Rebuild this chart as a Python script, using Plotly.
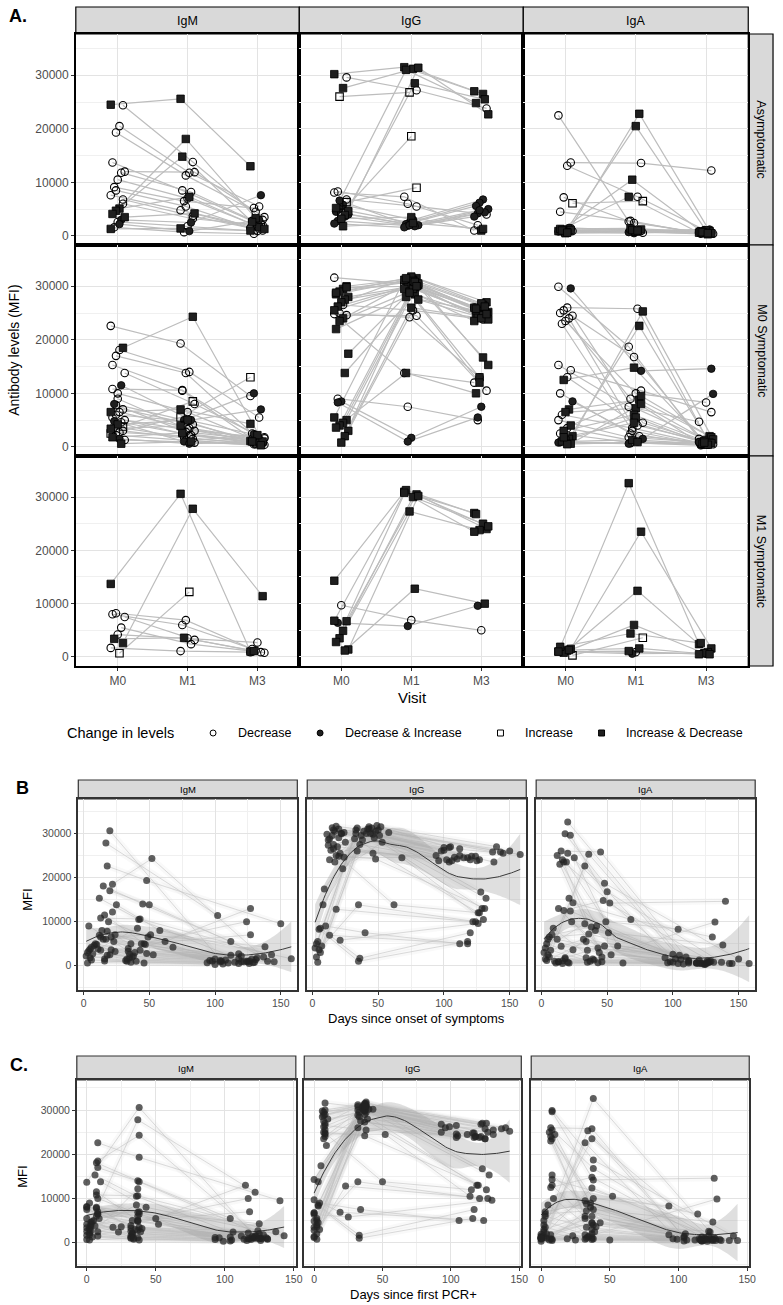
# Antibody kinetics figure: A = visit facets, B/C = MFI vs days with loess smooth
import numpy as np
import plotly.graph_objects as go

W, H = 783, 1305
FONT = "Liberation Sans, Arial, sans-serif"

antibodies = ["IgM", "IgG", "IgA"]
groups = ["Asymptomatic", "M0 Symptomatic", "M1 Symptomatic"]
visits = ["M0", "M1", "M3"]
change_labels = ["Decrease", "Decrease & Increase", "Increase", "Increase & Decrease"]
mfi_ticks = [0, 10000, 20000, 30000]

# MFI in thousands, one row per participant: [M0, M1, M3]  (None = no sample)
asym_igm = [
    [24.5, 25.6, 13.0], [24.4, 13.8, 3.0], [20.5, 11.8, 5.5], [19.3, 11.3, 4.5],
    [13.7, 8.5, 2.8], [12.0, 11.9, 3.5], [11.8, 8.2, 2.2], [10.5, 7.0, 1.8],
    [9.1, 6.5, 5.2], [7.6, 4.8, 1.5], [6.8, 3.7, 1.0], [5.1, 7.3, 1.6],
    [4.7, 18.1, 3.3], [4.1, 14.8, 2.6], [3.5, 4.2, 1.3], [3.0, 2.5, 7.6],
    [2.6, 1.8, 0.9], [1.6, 0.7, 0.4], [1.3, 1.4, 1.0], [6.0, 3.2, 2.0],
    [2.2, 0.9, 3.0], [8.5, 5.5, 1.2],
]
asym_igg = [
    [30.2, 31.5, 27.0], [29.6, 27.2, 23.8], [27.6, 31.2, 26.5], [26.0, 26.8, None],
    [5.2, 31.0, 24.8], [4.6, 31.4, 22.7], [3.9, 28.5, 25.5], [4.3, 18.6, None],
    [8.3, 6.0, 2.0], [8.1, 7.3, 1.0], [6.3, 9.0, None], [5.8, 3.0, 6.8],
    [5.0, 2.5, 6.2], [4.5, 2.2, 5.6], [4.0, 2.0, 5.0], [3.6, 1.8, 4.4],
    [3.2, 3.5, 1.0], [2.8, 1.9, 4.2], [2.3, 1.6, 3.6], [6.8, 5.5, 4.0],
    [1.8, 2.4, 1.3], [6.6, 2.0, 4.8],
]
asym_iga = [
    [22.5, 2.7, 0.6], [13.7, 13.6, 12.2], [13.1, 7.3, 0.8], [7.2, 2.4, 0.5],
    [4.5, 2.8, 0.4], [6.1, 6.5, None], [1.0, 22.8, 0.9], [0.8, 20.5, 1.0],
    [1.2, 10.5, 0.7], [0.9, 7.3, 0.6], [1.1, 1.2, 0.5], [0.7, 0.9, 0.3],
    [0.6, 0.5, 1.0], [1.3, 1.4, 0.8], [0.9, 0.6, 0.4], [1.5, 1.0, 1.2],
    [0.5, 0.8, 0.6], [1.0, 1.1, 0.7], [0.8, 0.7, 0.9], [1.4, 0.9, 0.6],
    [0.6, 1.0, 0.5], [1.1, 0.8, 1.1],
]
m0s_igm = [
    [22.6, 19.3, 9.5], [18.5, 24.3, 1.0], [18.1, 14.0, 5.5], [17.0, 13.8, 2.0],
    [15.3, 10.5, 1.5], [13.8, 8.0, 1.6], [11.5, 5.0, 7.0], [10.0, 6.5, 1.2],
    [8.0, 5.0, 10.0], [6.5, 7.0, 4.3], [7.0, 4.2, 0.8], [6.5, 3.5, 1.5],
    [6.0, 4.8, 0.7], [5.5, 2.5, 0.9], [5.0, 3.0, 1.8], [4.6, 2.2, 0.6],
    [4.2, 5.0, 2.2], [3.8, 1.8, 0.5], [3.4, 3.9, 1.1], [3.0, 1.5, 0.7],
    [2.7, 2.0, 1.3], [2.2, 1.2, 0.5], [1.8, 2.6, 1.0], [1.3, 0.8, 0.4],
    [0.6, 1.0, 0.3], [9.0, 3.3, 0.9], [4.8, 1.0, 2.4], [2.5, 5.5, 13.0],
    [3.8, 8.5, None], [1.5, 0.6, 0.9], [7.8, 2.8, 1.4], [10.8, 10.6, 2.5],
]
m0s_igg = [
    [31.6, 30.5, 26.0], [30.0, 31.5, 27.0], [29.5, 31.2, 26.5], [29.0, 30.8, 25.8],
    [28.5, 31.0, 24.5], [28.0, 30.2, 25.2], [27.5, 29.8, 24.0], [27.0, 31.8, 26.8],
    [26.2, 30.0, 24.8], [25.5, 29.5, 23.5], [24.6, 24.5, 10.5], [24.0, 31.0, 16.7],
    [23.5, 29.0, 13.0], [22.0, 28.0, 25.5], [17.4, 30.5, 15.3], [13.8, 28.5, 24.2],
    [8.5, 1.7, 7.5], [8.3, 1.0, 5.5], [5.5, 31.2, 26.0], [5.0, 30.0, 25.0],
    [4.5, 29.5, 24.6], [4.0, 28.8, 12.0], [3.6, 13.8, 10.0], [3.0, 27.5, 23.8],
    [2.0, 30.8, 26.2], [0.8, 26.0, 24.0], [9.0, 7.5, 5.0], [24.8, 13.8, 12.0],
    [29.8, 30.0, 24.8], [26.5, 25.5, 23.8], [25.0, 24.2, 13.0], [28.8, 31.5, 25.8],
]
m0s_iga = [
    [29.9, 18.7, 1.5], [29.6, 14.2, 14.6], [26.0, 25.8, 1.2], [25.5, 16.8, 0.8],
    [25.0, 9.0, 0.6], [24.5, 4.5, 0.5], [24.0, 2.0, 0.7], [23.5, 10.0, 8.3],
    [23.0, 3.0, 0.4], [15.3, 7.5, 4.7], [14.3, 10.5, 6.5], [13.0, 4.0, 0.9],
    [12.5, 14.8, 1.0], [10.0, 2.5, 0.5], [8.5, 1.5, 9.9], [7.0, 8.8, 2.0],
    [6.5, 7.2, 1.3], [6.0, 3.5, 0.6], [5.0, 1.8, 0.9], [4.0, 9.5, 1.8],
    [3.5, 1.0, 0.4], [3.0, 6.0, 1.1], [2.5, 0.8, 0.3], [2.0, 25.3, 1.4],
    [1.5, 22.6, 0.8], [1.2, 5.5, 0.5], [1.0, 1.3, 0.6], [0.8, 0.6, 0.9],
    [0.6, 8.0, 0.7], [0.5, 0.9, 0.4], [1.8, 4.5, 0.8], [0.9, 0.7, 0.5],
]
m1s_igm = [
    [13.7, 30.6, 1.0], [2.6, 27.8, 11.4], [0.7, 12.2, None], [8.2, 6.9, 1.2],
    [8.0, 6.0, 1.5], [7.5, 3.2, 0.8], [5.5, 2.4, 0.9], [4.2, 3.5, 2.7],
    [3.4, 3.6, 1.1], [1.7, 1.1, 0.9],
]
m1s_igg = [
    [14.3, 31.0, 27.0], [6.7, 30.5, 24.0], [4.9, 30.0, 25.0], [3.5, 27.3, 23.8],
    [2.8, 31.3, 26.8], [1.4, 30.2, 24.5], [1.2, 12.8, 10.0], [9.7, 6.9, 5.0],
    [6.4, 5.8, 9.6], [6.8, 30.8, 23.5],
]
m1s_iga = [
    [1.0, 32.6, 2.4], [1.5, 23.5, 1.6], [1.2, 12.4, 0.9], [0.8, 6.0, 0.7],
    [1.9, 4.4, 2.6], [0.3, 3.6, None], [1.3, 1.6, 0.5], [1.1, 0.9, 0.6],
    [1.0, 0.6, 0.7], [1.0, 1.1, 0.5],
]

# days since onset of symptoms at each visit, M0-symptomatic participants
m0s_onset_m0 = [18, 22, 15, 20, 12, 25, 16, 19, 14, 21, 24, 13, 17, 23, 9, 8,
                6, 5, 4, 3, 7, 2, 5, 6, 3, 4, 10, 20, 11, 16, 18, 13]
m0s_onset_m1 = [48, 52, 45, 50, 42, 58, 46, 49, 44, 51, 68, 43, 47, 53, 39, 38,
                36, 35, 34, 33, 37, 32, 35, 36, 33, 34, 40, 62, 41, 46, 48, 43]
m0s_onset_m3 = [150, 140, 112, 137, 118, 158, 127, 104, 124, 138, 130, 128, 129, 145, 132, 110,
                120, 118, 98, 94, 108, 126, 124, 106, 100, 120, 112, 127, 121, 125, 131, 143]
m0s_onset_to_pcr = [10, 14, 8, 12, 6, 15, 9, 11, 7, 13, 16, 5, 10, 14, 4, 5,
                    3, 2, 2, 1, 4, 0, 3, 2, 1, 2, 6, 12, 5, 8, 11, 6]
# M1-symptomatic participants: symptoms began after the M0 (PCR+) visit
m1s_onset_m1 = [20, 17, 22, 12, 15, 24, 18, 13, 21, 16]
m1s_onset_m3 = [105, 102, 112, 96, 100, 115, 122, 118, 126, 104]
m1s_pcr_to_onset = [18, 20, 15, 25, 22, 16, 5, 6, 4, 21]

facet_data = {
    "Asymptomatic": [asym_igm, asym_igg, asym_iga],
    "M0 Symptomatic": [m0s_igm, m0s_igg, m0s_iga],
    "M1 Symptomatic": [m1s_igm, m1s_igg, m1s_iga],
}

marker_style = {
    "Decrease": dict(symbol="circle-open", color="black", size=7.5, line=dict(width=1.1, color="black")),
    "Decrease & Increase": dict(symbol="circle", color="#1f1f1f", size=7.5, line=dict(width=0.8, color="black")),
    "Increase": dict(symbol="square-open", color="black", size=7.5, line=dict(width=1.1, color="black")),
    "Increase & Decrease": dict(symbol="square", color="#1f1f1f", size=7.5, line=dict(width=0.8, color="black")),
}


def change_type(v):
    vals = [a for a in v if a is not None]
    steps = [b - a for a, b in zip(vals, vals[1:])]
    if all(s <= 0 for s in steps):
        return "Decrease"
    if all(s > 0 for s in steps):
        return "Increase"
    return "Increase & Decrease" if steps[0] > 0 else "Decrease & Increase"


def loess(x, y, grid, span=0.75, cell=0.2):
    """local quadratic loess, evaluated at kd-tree vertices and blended
    with cubic Hermite interpolation (the way R's loess does by default)"""
    x = np.asarray(x, float)
    y = np.asarray(y, float)
    n = len(x)
    q = int(np.floor(span * n))

    def rows(x0):
        d = np.abs(x - x0)
        h = max(np.sort(d)[q - 1], 1e-9)
        w = (1 - np.clip(d / h, 0, 1) ** 3) ** 3
        X = np.column_stack([np.ones(n), x - x0, (x - x0) ** 2])
        XtW = X.T * w
        A = np.linalg.solve(XtW @ X, XtW)
        return A[0], A[1]

    fc = int(np.floor(n * span * cell))
    pad = 0.005 * (x.max() - x.min())
    lo, hi = x.min() - pad, x.max() + pad
    verts = {lo, hi}

    def split(a, b):
        inside = x[(x >= a) & (x <= b)]
        if len(inside) <= fc:
            return
        m = float(np.median(inside))
        if m <= a or m >= b:
            return
        verts.add(m)
        split(a, m)
        split(m, b)

    split(lo, hi)
    v = np.array(sorted(verts))
    R = [rows(vi) for vi in v]

    def op(xq):
        i = min(max(np.searchsorted(v, xq) - 1, 0), len(v) - 2)
        dx = v[i + 1] - v[i]
        t = (xq - v[i]) / dx
        h00 = 2 * t ** 3 - 3 * t ** 2 + 1
        h10 = t ** 3 - 2 * t ** 2 + t
        h01 = -2 * t ** 3 + 3 * t ** 2
        h11 = t ** 3 - t ** 2
        return h00 * R[i][0] + h10 * dx * R[i][1] + h01 * R[i + 1][0] + h11 * dx * R[i + 1][1]

    S = np.array([op(xi) for xi in x])
    res = y - S @ y
    d1 = n - 2 * np.trace(S) + np.sum(S * S)
    sigma = np.sqrt(res @ res / d1)
    G = np.array([op(g) for g in grid])
    fit = G @ y
    se = sigma * np.sqrt((G ** 2).sum(axis=1))
    return fit, fit - 1.96 * se, fit + 1.96 * se


def xd(a, b):
    return [a / W, b / W]


def yd(top, bot):
    return [1 - bot / H, 1 - top / H]


def note(text, x, y, size, **kw):
    d = dict(text=text, x=x / W, y=1 - y / H, xref="paper", yref="paper", showarrow=False,
             xanchor="center", yanchor="middle", font=dict(family=FONT, size=size, color="black"))
    d.update(kw)
    return d


fig = go.Figure()
layout = {}
shapes = []
annotations = []

grid_c = "#e3e3e3"
minor_c = "#f0f0f0"
tick_font = dict(family=FONT, size=12, color="#4d4d4d")

# ---------------- panel A ----------------
colsA = [(76.5, 302), (302, 528), (528, 755)]
rowsA = [(34, 245), (245, 456), (456, 666)]

k = 0
for r, grp in enumerate(groups):
    for c, ab in enumerate(antibodies):
        k += 1
        sfx = "" if k == 1 else str(k)
        layout["xaxis" + sfx] = dict(
            domain=xd(*colsA[c]), anchor="y" + sfx, range=[0.4, 3.6],
            tickvals=[1, 2, 3], ticktext=visits, showticklabels=(r == 2),
            ticks="outside" if r == 2 else "", ticklen=3, tickcolor="#333",
            showgrid=True, gridcolor=grid_c, gridwidth=1, zeroline=False,
            showline=True, mirror=True, linecolor="black", linewidth=1.5,
            tickfont=tick_font)
        layout["yaxis" + sfx] = dict(
            domain=yd(*rowsA[r]), anchor="x" + sfx, range=[-1700, 37700],
            tickvals=mfi_ticks, ticktext=[str(t) for t in mfi_ticks], showticklabels=(c == 0),
            ticks="outside" if c == 0 else "", ticklen=3, tickcolor="#333",
            showgrid=True, gridcolor=grid_c, gridwidth=1, zeroline=False,
            minor=dict(tickvals=[5000, 15000, 25000, 35000], showgrid=True,
                       gridcolor=minor_c, gridwidth=0.6),
            showline=True, mirror=True, linecolor="black", linewidth=1.5,
            tickfont=tick_font)

        subjects = facet_data[grp][c]
        lx, ly = [], []
        pts = {lab: ([], []) for lab in change_labels}
        for j, subj in enumerate(subjects):
            jit = ((j * 7) % 9 - 4) * 0.025
            lab = change_type(subj)
            for vi, val in enumerate(subj):
                if val is None:
                    continue
                lx.append(vi + 1 + jit)
                ly.append(val * 1000)
                pts[lab][0].append(vi + 1 + jit)
                pts[lab][1].append(val * 1000)
            lx.append(None)
            ly.append(None)
        fig.add_trace(go.Scatter(x=lx, y=ly, mode="lines", xaxis="x" + sfx, yaxis="y" + sfx,
                                 line=dict(color="#bdbdbd", width=1.2), showlegend=False,
                                 hoverinfo="skip"))
        for lab in change_labels:
            fig.add_trace(go.Scatter(x=pts[lab][0], y=pts[lab][1], mode="markers",
                                     xaxis="x" + sfx, yaxis="y" + sfx,
                                     marker=marker_style[lab], showlegend=False, name=lab))

# strips for A
for c, ab in enumerate(antibodies):
    x0, x1 = colsA[c]
    shapes.append(dict(type="rect", xref="paper", yref="paper", x0=x0 / W, x1=x1 / W,
                       y0=1 - 34 / H, y1=1 - 7 / H, fillcolor="#d9d9d9",
                       line=dict(color="black", width=1.2), layer="below"))
    annotations.append(note(ab, (x0 + x1) / 2, 21, 12.5))
for r, grp in enumerate(groups):
    y0, y1 = rowsA[r]
    shapes.append(dict(type="rect", xref="paper", yref="paper", x0=755 / W, x1=780 / W,
                       y0=1 - y1 / H, y1=1 - y0 / H, fillcolor="#d9d9d9",
                       line=dict(color="black", width=1.2), layer="below"))
    annotations.append(note(grp, 768, (y0 + y1) / 2, 12.5, textangle=90))

annotations += [
    note("<b>A.</b>", 7, 16, 18, xanchor="left"),
    note("Antibody levels (MFI)", 14, 350, 14, textangle=-90),
    note("Visit", 416, 697, 15),
    note("Change in levels", 66, 733, 14.5, xanchor="left"),
]
# legend keys
legend_pos = [(215, 238), (323, 346), (505, 528), (607, 630)]
for (sx, tx), lab in zip(legend_pos, change_labels):
    fill = "#1f1f1f" if "&" in lab else "white"
    kind = "circle" if lab.startswith("Decrease") else "rect"
    shapes.append(dict(type=kind, xref="paper", yref="paper", x0=(sx - 3) / W, x1=(sx + 3) / W,
                       y0=1 - 736 / H, y1=1 - 730 / H, fillcolor=fill,
                       line=dict(color="black", width=1)))
    annotations.append(note(lab, tx, 733, 12.5, xanchor="left"))

# ---------------- panels B and C ----------------
# assemble per-participant day/value series for the symptomatic groups
onset_days, pcr_days, values = [], [], {ab: [] for ab in antibodies}
for j in range(len(m0s_onset_m0)):
    od = [m0s_onset_m0[j], m0s_onset_m1[j], m0s_onset_m3[j]]
    onset_days.append(od)
    pcr_days.append([d - m0s_onset_to_pcr[j] for d in od])
    for ab, data in zip(antibodies, [m0s_igm, m0s_igg, m0s_iga]):
        values[ab].append(data[j])
for j in range(len(m1s_onset_m1)):
    lag = m1s_pcr_to_onset[j]
    onset_days.append([None, m1s_onset_m1[j], m1s_onset_m3[j]])
    pcr_days.append([0, m1s_onset_m1[j] + lag, m1s_onset_m3[j] + lag])
    for ab, data in zip(antibodies, [m1s_igm, m1s_igg, m1s_iga]):
        values[ab].append(data[j])

small_tick = dict(family=FONT, size=10.5, color="#4d4d4d")
panels = [
    dict(days=onset_days, cols=[(79, 300), (310, 531), (541, 762)], rows=(799, 990), strip=(780, 799),
         xr=[-4, 162.6], yr=[-5500, 37800], label="<b>B</b>", lab_pos=(14, 788),
         title="Days since onset of symptoms", title_y=1018, mfi=(27, 900)),
    dict(days=pcr_days, cols=[(77.5, 298.5), (307, 526), (536, 756)], rows=(1080, 1266), strip=(1056, 1080),
         xr=[-7.2, 151.5], yr=[-5270, 36800], label="<b>C.</b>", lab_pos=(8, 1065),
         title="Days since first PCR+", title_y=1294, mfi=(22, 1177)),
]
for p in panels:
    for c, ab in enumerate(antibodies):
        k += 1
        sfx = str(k)
        layout["xaxis" + sfx] = dict(
            domain=xd(*p["cols"][c]), anchor="y" + sfx, range=p["xr"],
            tickvals=[0, 50, 100, 150], ticks="outside", ticklen=3, tickcolor="#333",
            showgrid=True, gridcolor=grid_c, zeroline=False,
            minor=dict(tickvals=[25, 75, 125], showgrid=True, gridcolor=minor_c, gridwidth=0.6),
            showline=True, mirror=True, linecolor="#333", linewidth=1.5, tickfont=small_tick)
        layout["yaxis" + sfx] = dict(
            domain=yd(*p["rows"]), anchor="x" + sfx, range=p["yr"],
            tickvals=mfi_ticks, ticktext=[str(t) for t in mfi_ticks], showticklabels=(c == 0),
            ticks="outside" if c == 0 else "", ticklen=3, tickcolor="#333",
            showgrid=True, gridcolor=grid_c, zeroline=False,
            minor=dict(tickvals=[-5000, 5000, 15000, 25000, 35000], showgrid=True,
                       gridcolor=minor_c, gridwidth=0.6),
            showline=True, mirror=True, linecolor="#333", linewidth=1.5, tickfont=small_tick)

        px_, py_ = [], []
        lx, ly = [], []
        for days, subj in zip(p["days"], values[ab]):
            seg = sorted((d, v * 1000) for d, v in zip(days, subj) if d is not None and v is not None)
            for d, v in seg:
                px_.append(d)
                py_.append(v)
                lx.append(d)
                ly.append(v)
            lx.append(None)
            ly.append(None)
        fig.add_trace(go.Scatter(x=lx, y=ly, mode="lines", xaxis="x" + sfx, yaxis="y" + sfx,
                                 line=dict(color="rgba(205,205,205,0.13)", width=6),
                                 showlegend=False, hoverinfo="skip"))
        fig.add_trace(go.Scatter(x=lx, y=ly, mode="lines", xaxis="x" + sfx, yaxis="y" + sfx,
                                 line=dict(color="rgba(195,195,195,0.6)", width=1),
                                 showlegend=False, hoverinfo="skip"))
        grid = np.linspace(min(px_), max(px_), 120)
        fit, lo, hi = loess(px_, py_, grid)
        fig.add_trace(go.Scatter(x=np.concatenate([grid, grid[::-1]]), y=np.concatenate([hi, lo[::-1]]),
                                 fill="toself", fillcolor="rgba(150,150,150,0.3)", mode="none",
                                 xaxis="x" + sfx, yaxis="y" + sfx, showlegend=False, hoverinfo="skip"))
        fig.add_trace(go.Scatter(x=grid, y=fit, mode="lines", xaxis="x" + sfx, yaxis="y" + sfx,
                                 line=dict(color="#3a3a3a", width=1), showlegend=False))
        fig.add_trace(go.Scatter(x=px_, y=py_, mode="markers", xaxis="x" + sfx, yaxis="y" + sfx,
                                 marker=dict(color="rgba(35,35,35,0.72)", size=7), showlegend=False))

        x0, x1 = p["cols"][c]
        s0, s1 = p["strip"]
        shapes.append(dict(type="rect", xref="paper", yref="paper", x0=x0 / W, x1=x1 / W,
                           y0=1 - s1 / H, y1=1 - s0 / H, fillcolor="#d9d9d9",
                           line=dict(color="#333", width=1.2), layer="below"))
        annotations.append(note(ab, (x0 + x1) / 2, (s0 + s1) / 2, 9.5))
    cx = (p["cols"][0][0] + p["cols"][2][1]) / 2
    annotations += [
        note(p["label"], p["lab_pos"][0], p["lab_pos"][1], 18, xanchor="left"),
        note(p["title"], cx, p["title_y"], 13),
        note("MFI", p["mfi"][0], p["mfi"][1], 13, textangle=-90),
    ]

fig.update_layout(
    width=W, height=H, margin=dict(l=0, r=0, t=0, b=0),
    paper_bgcolor="white", plot_bgcolor="white",
    font=dict(family=FONT, color="black"),
    shapes=shapes, annotations=annotations, showlegend=False,
    **layout,
)

fig.write_html("out.html", config={"displayModeBar": False},
               post_script="document.body.style.margin='0';document.body.style.overflow='hidden';")
